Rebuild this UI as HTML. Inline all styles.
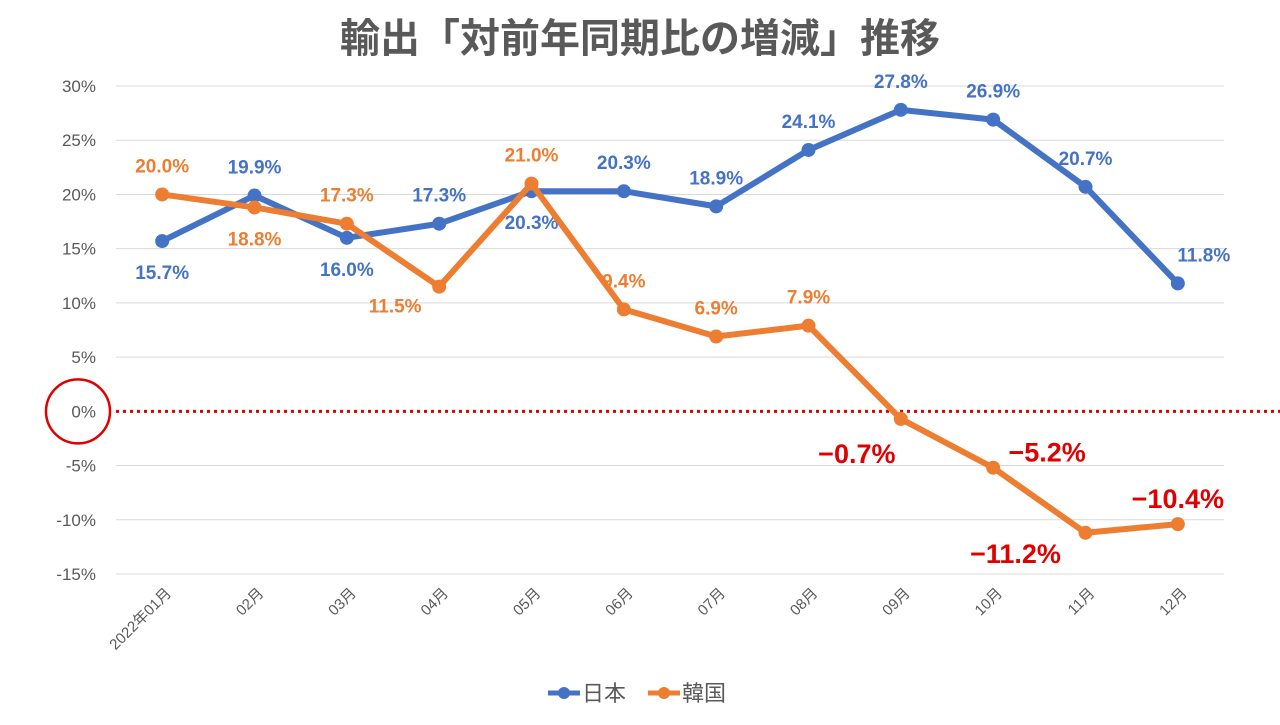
<!DOCTYPE html>
<html><head><meta charset="utf-8"><style>
body{margin:0;background:#fff;width:1280px;height:720px;overflow:hidden}
svg{font-family:"Liberation Sans","Noto Sans CJK JP",sans-serif}
</style></head><body>
<svg id="c" width="1280" height="720"></svg>
<script>
const categories=["2022年01月","02月","03月","04月","05月","06月","07月","08月","09月","10月","11月","12月"];
const japan=[15.7,19.9,16.0,17.3,20.3,20.3,18.9,24.1,27.8,26.9,20.7,11.8];
const korea=[20.0,18.8,17.3,11.5,21.0,9.4,6.9,7.9,-0.7,-5.2,-11.2,-10.4];
const yTicks=[30,25,20,15,10,5,0,-5,-10,-15];
const japanPlace=["b","a","b","a","b","a","a","a","a","a","a","ar"];
const koreaPlace=["a","b","a","bl","a","a","a","a","bl","ar","bll","a"];
const NS="http://www.w3.org/2000/svg";
const svg=document.getElementById('c');
const L=116,R=1224,T=86,B=574;
const x=i=>L+(R-L)/categories.length*(i+0.5);
const y=v=>T+(30-v)/45*(B-T);
function el(tag,attrs,parent){const e=document.createElementNS(NS,tag);for(const k in attrs)e.setAttribute(k,attrs[k]);(parent||svg).appendChild(e);return e;}
let t=el('text',{x:640,y:52,'text-anchor':'middle','font-size':40,'font-weight':'bold',fill:'#595959'});
t.textContent='輸出「対前年同期比の増減」推移';


yTicks.forEach(v=>{
 if(v!==0){const g=el('line',{x1:L,x2:R,y1:y(v),y2:y(v),stroke:'#d9d9d9','stroke-width':1});
 
 }
 const lb=el('text',{x:96,y:y(v)+6,'text-anchor':'end','font-size':17,fill:'#595959'});
 lb.textContent=v+'%';
 
 
});
const zl=el('line',{x1:L,x2:1280,y1:y(0),y2:y(0),stroke:'#e00000','stroke-width':3,'stroke-dasharray':'3,4'});


const zc=el('circle',{cx:78,cy:y(0),r:32,fill:'none',stroke:'#e00000','stroke-width':2.5});


categories.forEach((c,i)=>{
 const tx=el('text',{x:x(i)+10,y:594,'text-anchor':'end','font-size':15,fill:'#595959',transform:`rotate(-45 ${x(i)+10} 594)`});
 tx.textContent=c;
 
 
});
function series(data,place,color,name){
 const p=el('polyline',{points:data.map((v,i)=>x(i)+','+y(v)).join(' '),fill:'none',stroke:color,'stroke-width':6,'stroke-linejoin':'round'});
 
 
 data.forEach((v,i)=>{
  const d=el('circle',{cx:x(i),cy:y(v),r:7,fill:color});
  
  
  const neg=v<0;
  let dx=0,dy=-22;const pl=place[i];
  if(pl==='b')dy=38;
  if(pl==='bl'){dx=-44;dy=neg?44:26;}
  if(pl==='bll'){dx=-70;dy=30;}
  if(pl==='ar'){dx=neg?54:26;dy=neg?-6:-22;}
  if(neg&&pl==='a'){dy=-16;}
  const lb=el('text',{x:x(i)+dx,y:y(v)+dy,'text-anchor':'middle','font-size':neg?27:19,'font-weight':'bold',fill:neg?'#e00000':color});
  lb.textContent=(neg?'−'+Math.abs(v).toFixed(1):v.toFixed(1))+'%';
  
  
 });
}
series(japan,japanPlace,'#4472c4','japan');
series(korea,koreaPlace,'#ed7d31','korea');
[["#4472c4","日本",548],["#ed7d31","韓国",648]].forEach(([c,n,lx])=>{
 const g=el('g',{});
 
 
 el('line',{x1:lx,x2:lx+32,y1:693,y2:693,stroke:c,'stroke-width':5},g);
 el('circle',{cx:lx+16,cy:693,r:6,fill:c},g);
 const tt=el('text',{x:lx+34,y:701,'font-size':22,fill:'#595959'},g);
 tt.textContent=n;
});
</script>
</body></html>
